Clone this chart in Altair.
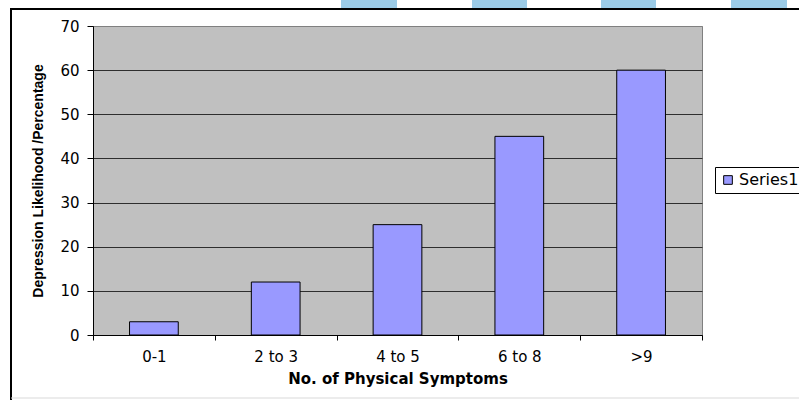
import altair as alt
import pandas as pd

# Survey summary: share of patients with depression by number of physical symptoms
categories = ["0-1", "2 to 3", "4 to 5", "6 to 8", ">9"]
likelihood = [3, 12, 25, 45, 60]
series_name = "Series1"
y_ticks = [0, 10, 20, 30, 40, 50, 60, 70]

df = pd.DataFrame({
    "symptoms": categories,
    "likelihood": likelihood,
    "series": [series_name] * len(categories),
})

W, H = 609, 309
LABEL_FONT = "DejaVu Sans"
TITLE_FONT = "Liberation Sans"

bars = alt.Chart(df).mark_bar(
    stroke="black", strokeWidth=1, width=alt.RelativeBandSize(0.4)
).encode(
    x=alt.X(
        "symptoms:N",
        sort=categories,
        scale=alt.Scale(paddingInner=0, paddingOuter=0),
        axis=alt.Axis(
            title="No. of Physical Symptoms",
            labelAngle=0,
            tickBand="extent",
            domainColor="black",
            tickColor="black",
            tickSize=5,
            labelPadding=9,
            labelFont=LABEL_FONT,
            labelFontSize=15,
            labelColor="black",
            titleFont=LABEL_FONT,
            titleFontSize=15,
            titleFontWeight="bold",
            titleColor="black",
            titleX=W / 2,
            titleY=43,
            titleBaseline="middle",
            grid=False,
        ),
    ),
    y=alt.Y(
        "likelihood:Q",
        scale=alt.Scale(domain=[0, 70], nice=False),
        axis=alt.Axis(
            title="Depression Likelihood /Percentage",
            values=y_ticks,
            domainColor="black",
            tickColor="black",
            tickSize=6,
            labelPadding=8,
            labelFont=LABEL_FONT,
            labelFontSize=15,
            labelColor="black",
            titleFont=TITLE_FONT,
            titleFontSize=14,
            titleFontWeight="bold",
            titleColor="black",
            titleAngle=270,
            titleX=-55,
            titleY=H / 2,
            titleAlign="center",
            titleBaseline="middle",
            grid=True,
            gridColor=alt.condition(
                "datum.value == 70", alt.value("#808080"), alt.value("#2e2e2e")
            ),
            gridWidth=1,
        ),
    ),
    color=alt.Color(
        "series:N",
        scale=alt.Scale(range=["#9999FF"]),
        legend=alt.Legend(
            title=None,
            orient="none",
            legendX=622,
            legendY=141,
            symbolType="square",
            symbolSize=75,
            symbolStrokeColor="black",
            symbolStrokeWidth=1,
            labelFont=LABEL_FONT,
            labelFontSize=16,
            labelColor="black",
            labelOffset=3,
            strokeColor="black",
            fillColor="white",
            padding=5,
        ),
    ),
)

one = pd.DataFrame({"k": [0]})

# slide frame around the chart
frame_top = alt.Chart(one).mark_rule(color="black", strokeWidth=2).encode(
    x=alt.value(-83), x2=alt.value(706), y=alt.value(-17)
)
frame_left = alt.Chart(one).mark_rect(color="black").encode(
    x=alt.value(-83), x2=alt.value(-81), y=alt.value(-18), y2=alt.value(374)
)
frame_bottom = alt.Chart(one).mark_rule(color="#d9d9d9", strokeWidth=1).encode(
    x=alt.value(-82), x2=alt.value(706), y=alt.value(372)
)

# decorative light-blue stripes along the slide's top edge
stripes = [
    alt.Chart(one).mark_rect(color="#9bcbe7").encode(
        x=alt.value(x0), x2=alt.value(x1), y=alt.value(-26), y2=alt.value(-18)
    )
    for x0, x1 in [(248, 304), (379, 434), (508, 563), (638, 694)]
]

chart = alt.layer(
    *stripes, frame_left, frame_bottom, bars, frame_top
).properties(
    width=W,
    height=H,
    autosize=alt.AutoSizeParams(type="none"),
    padding={"left": 93, "top": 26, "right": 97, "bottom": 65},
    background="white",
).configure_view(
    fill="#C0C0C0",
    stroke="#808080",
    strokeWidth=1,
)

chart.save("out.html", embed_options={"renderer": "svg", "actions": False})
